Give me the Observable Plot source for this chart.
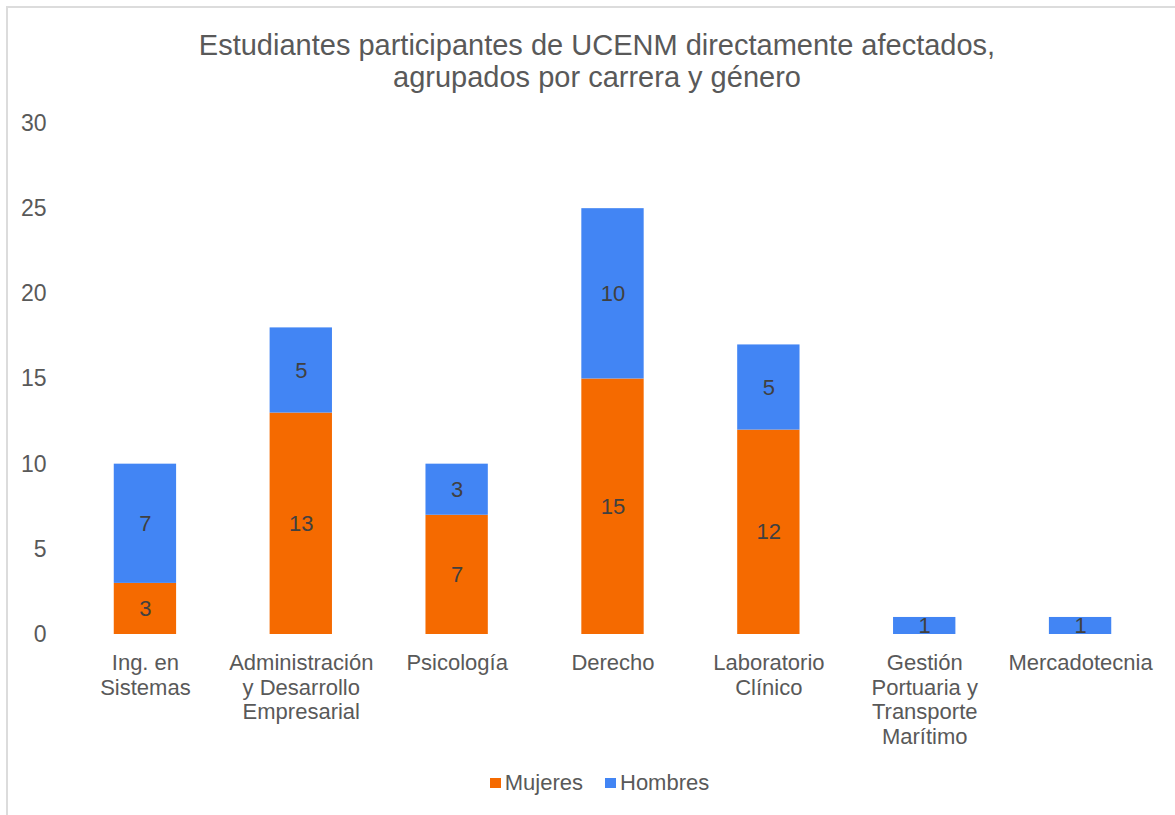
<!DOCTYPE html>
<html>
<head>
<meta charset="utf-8">
<script src="https://cdn.jsdelivr.net/npm/d3@7"></script>
<script src="https://cdn.jsdelivr.net/npm/@observablehq/plot@0.6"></script>
<style>
  html, body { margin: 0; padding: 0; background: #fff; }
  #wrap { position: relative; width: 1175px; height: 815px; overflow: hidden; font-family: "Liberation Sans", Arial, sans-serif; }
  #frame { position: absolute; left: 6px; top: 6px; right: -10px; bottom: -10px; border-left: 2.5px solid #dcdcdc; border-top: 2.5px solid #dcdcdc; }
  #title { position: absolute; left: 0; width: 1194px; top: 29px; text-align: center; font-size: 29px; line-height: 32px; color: #595959; }
  #chart { position: absolute; left: 0; top: 0; }
  #legend { position: absolute; top: 770px; left: 12px; width: 1175px; display: flex; justify-content: center; font-size: 22px; color: #595959; }
  .item { display: flex; align-items: center; margin: 0 11px; }
  .sw { width: 11px; height: 10px; margin-right: 4px; }
</style>
</head>
<body>
<div id="wrap">
  <div id="frame"></div>
  <div id="chart"></div>
  <div id="title">Estudiantes participantes de UCENM directamente afectados,<br>agrupados por carrera y género</div>
  <div id="legend"></div>
</div>
<script>
const carreras = [
  "Ing. en Sistemas",
  "Administración y Desarrollo Empresarial",
  "Psicología",
  "Derecho",
  "Laboratorio Clínico",
  "Gestión Portuaria y Transporte Marítimo",
  "Mercadotecnia"
];
const etiquetas = [
  "Ing. en\nSistemas",
  "Administración\ny Desarrollo\nEmpresarial",
  "Psicología",
  "Derecho",
  "Laboratorio\nClínico",
  "Gestión\nPortuaria y\nTransporte\nMarítimo",
  "Mercadotecnia"
];
const mujeres = [3, 13, 7, 15, 12, 0, 0];
const hombres = [7, 5, 3, 10, 5, 1, 1];
const series = ["Mujeres", "Hombres"];
const colores = ["#F56A00", "#4285F4"];
const yTicks = [0, 5, 10, 15, 20, 25, 30];

const data = [];
carreras.forEach((c, i) => data.push({carrera: c, genero: "Mujeres", valor: mujeres[i]}));
carreras.forEach((c, i) => data.push({carrera: c, genero: "Hombres", valor: hombres[i]}));

const labelOf = new Map(carreras.map((c, i) => [c, etiquetas[i]]));

const chart = Plot.plot({
  width: 1175,
  height: 815,
  marginLeft: 67,
  marginRight: 17,
  marginTop: 123,
  marginBottom: 181,
  style: {fontFamily: "'Liberation Sans', Arial, sans-serif", background: "transparent"},
  x: {domain: carreras, paddingInner: 0.6, paddingOuter: 0.3, round: false, label: null},
  y: {domain: [0, 30], label: null},
  color: {domain: series, range: colores},
  marks: [
    Plot.gridY(yTicks, {stroke: "#d9d9d9", strokeOpacity: 1, strokeWidth: 1.3, x1: 66, x2: 1160}),
    Plot.barY(data, {x: "carrera", y: "valor", fill: "genero", z: "genero", inset: 0}),
    Plot.ruleY([0], {stroke: "#d9d9d9", strokeWidth: 1.5, x1: 66, x2: 1160}),
    Plot.text(data, Plot.stackY({
      x: "carrera", y: "valor", z: "genero",
      text: d => d.valor > 0 ? String(d.valor) : "",
      fill: "#404040", fontSize: 22
    })),
    Plot.axisY({ticks: yTicks, tickSize: 0, tickPadding: 21, fontSize: 23, color: "#595959", label: null}),
    Plot.axisX({tickSize: 0, tickPadding: 18, fontSize: 22, color: "#595959", label: null,
      tickFormat: c => labelOf.get(c), lineHeight: 1.12, textAnchor: "middle"})
  ]
});
document.getElementById("chart").appendChild(chart);

const legend = document.getElementById("legend");
series.forEach((s, i) => {
  const it = document.createElement("div");
  it.className = "item";
  const sw = document.createElement("div");
  sw.className = "sw";
  sw.style.background = colores[i];
  const tx = document.createElement("span");
  tx.textContent = s;
  it.appendChild(sw); it.appendChild(tx);
  legend.appendChild(it);
});
</script>
</body>
</html>
